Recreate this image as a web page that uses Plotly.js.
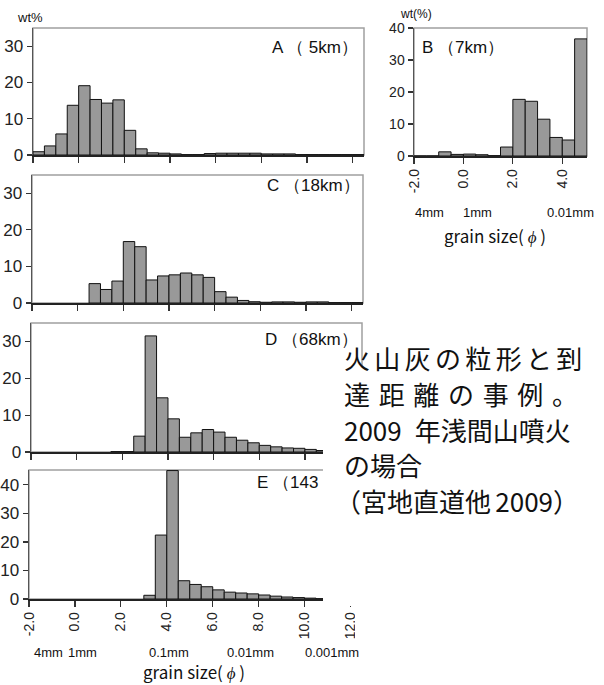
<!DOCTYPE html>
<html><head><meta charset="utf-8">
<script src="https://cdn.plot.ly/plotly-3.0.1.min.js"></script>
<style>body{margin:0;background:#fff;} #chart{width:604px;height:685px;}</style>
</head><body><div id="chart"></div>
<script>
// bin start (phi), bins are 0.5 phi wide
const binsA = [-2.0,-1.5,-1.0,-0.5,0.0,0.5,1.0,1.5,2.0,2.5,3.0,3.5,4.0,4.5,5.0,5.5,6.0,6.5,7.0,7.5,8.0,8.5,9.0,9.5,10.0,10.5,11.0,11.5,12.0];
const valuesA = [0.9,2.5,5.8,13.7,19.1,15.3,14.3,15.2,6.8,1.7,0.6,0.5,0.3,0.1,0.1,0.4,0.5,0.5,0.5,0.5,0.3,0.3,0.3,0.1,0.1,0.1,0.1,0.1,0.1];
const binsB = [-2.0,-1.5,-1.0,-0.5,0.0,0.5,1.0,1.5,2.0,2.5,3.0,3.5,4.0,4.5];
const valuesB = [0,0,1.3,0.5,0.6,0.4,0.1,2.8,17.7,17.1,11.5,5.8,5.0,36.6];
const binsC = [0.5,1.0,1.5,2.0,2.5,3.0,3.5,4.0,4.5,5.0,5.5,6.0,6.5,7.0,7.5,8.0,8.5,9.0,9.5,10.0,10.5,11.0,11.5,12.0];
const valuesC = [5.3,3.7,6.0,16.8,15.4,6.3,7.4,7.7,8.2,7.7,7.0,3.1,1.6,0.7,0.35,0.2,0.3,0.3,0.2,0.3,0.3,0.1,0.1,0.1];
const binsD = [1.5,2.0,2.5,3.0,3.5,4.0,4.5,5.0,5.5,6.0,6.5,7.0,7.5,8.0,8.5,9.0,9.5,10.0,10.5];
const valuesD = [0.1,0.1,4.3,31.5,14.7,9.0,4.0,5.2,6.1,5.4,4.0,3.2,2.5,1.8,1.4,1.1,1.0,0.7,0.4];
const binsE = [3.0,3.5,4.0,4.5,5.0,5.5,6.0,6.5,7.0,7.5,8.0,8.5,9.0,9.5,10.0,10.5];
const valuesE = [1.3,22.4,45.0,6.4,5.1,4.3,3.2,2.4,2.1,1.8,1.4,1.0,0.7,0.5,0.3,0.1];

const panelLabels = ["A （ 5km）","B （7km）","C （18km）","D （68km）","E （143"];
const phiTicks = [-2,0,2,4,6,8,10,12];
const phiTickText = ["-2.0","0.0","2.0","4.0","6.0","8.0","10.0","12.0"];
const phiTicksB = [-2,0,2,4];
const phiTickTextB = ["-2.0","0.0","2.0","4.0"];
const sizeLabelsB = ["4mm","1mm","0.01mm"];
const sizeLabelsE = ["4mm","1mm","0.1mm","0.01mm","0.001mm"];
const yLabelA = "wt%";
const yLabelB = "wt(%)";
const xTitle = "grain size( <i>ϕ</i> )";
const noteLines = [
  "火\u2006山\u2006灰\u2006の\u2006粒\u2006形\u2006と\u2006到",
  "達\u2004距\u2004離\u2004の\u2004事\u2004例\u2004。",
  "2009\u2002年浅間山噴火",
  "の場合",
  "（宮地直道他\u20062009）"
];

const W = 604, H = 685;
const px = x => x / W;
const py = y => 1 - y / H;

const sans = "Liberation Sans";
const barStyle = {color:'#999999', line:{color:'#111', width:1}};

function centers(b){ return b.map(v => v + 0.25); }
function bar(b, v, n){
  return {type:'bar', x:centers(b), y:v, width:0.5, marker:barStyle,
          xaxis: n===1?'x':'x'+n, yaxis: n===1?'y':'y'+n, hoverinfo:'skip'};
}
const traces = [bar(binsA,valuesA,1), bar(binsB,valuesB,2), bar(binsC,valuesC,3), bar(binsD,valuesD,4), bar(binsE,valuesE,5)];

// panel boxes in pixels: [left, right, top, bottom]
const boxes = {
  1:[33,364,28,155],
  2:[414,587,28,156],
  3:[32,363,175,303],
  4:[31,362,323,452],
  5:[29,362,470,599]
};
function xa(n, range, tv, tt, showLabels){
  const b = boxes[n];
  return {domain:[px(b[0]),px(b[1])], range:range, anchor: n===1?'y':'y'+n,
    tickvals:tv, ticktext:tt, ticks:'outside', ticklen:6, tickwidth:1.2, tickcolor:'#333',
    showticklabels:showLabels, tickangle:-90, tickfont:{family:sans, size:14, color:'#222'},
    showgrid:false, zeroline:false, showline:true, linecolor:'#222', linewidth:1.5, fixedrange:true};
}
function ya(n, range, tv, fs){
  const b = boxes[n];
  return {domain:[py(b[3]),py(b[2])], range:range, anchor: n===1?'x':'x'+n,
    tickvals:tv, ticks:'outside', ticklen:5, tickwidth:1.2, tickcolor:'#333',
    tickfont:{family:sans, size:fs, color:'#222'},
    showgrid:false, zeroline:false, showline:true, linecolor:'#555', linewidth:1.5, fixedrange:true};
}

const shapes = [];
for (const k of [1,2,3,4,5]){
  const b = boxes[k];
  shapes.push({type:'rect', xref:'paper', yref:'paper', x0:px(b[0]), x1:px(b[1]), y0:py(b[3]), y1:py(b[2]),
    line:{color:'#a0a0a0', width:1.5}, layer:'below'});
}
// white note box laid over the right part of D and E
shapes.push({type:'rect', xref:'paper', yref:'paper', x0:px(323), x1:1, y0:py(606), y1:py(366),
  fillcolor:'#fff', line:{width:0}, layer:'above'});
shapes.push({type:'rect', xref:'paper', yref:'paper', x0:px(355), x1:1, y0:py(646), y1:py(606),
  fillcolor:'#fff', line:{width:0}, layer:'above'});

function ann(text, x, y, xanchor, size, family){
  return {text:text, x:px(x), y:py(y), xref:'paper', yref:'paper', xanchor:xanchor, yanchor:'middle',
    showarrow:false, borderpad:0, font:{family:family||sans, size:size, color:'#111'}};
}
const annotations = [
  ann(yLabelA, 30, 18, 'center', 13),
  ann(yLabelB, 399, 14, 'left', 12),
  ann(panelLabels[0], 359, 47, 'right', 17),
  ann(panelLabels[1], 421, 47, 'left', 17),
  ann(panelLabels[2], 361, 186, 'right', 17),
  ann(panelLabels[3], 359, 339, 'right', 17),
  ann(panelLabels[4], 256, 482, 'left', 17),
  ann(xTitle, 495, 235, 'center', 17, "Noto Sans CJK JP"),
  ann(xTitle, 194, 671, 'center', 17, "Noto Sans CJK JP")
];
const bUnitX = [429, 477, 570];
sizeLabelsB.forEach((t,i)=>annotations.push(ann(t, bUnitX[i], 213, 'center', 13)));
const eUnitX = [48, 82, 169, 250, 332];
sizeLabelsE.forEach((t,i)=>annotations.push(ann(t, eUnitX[i], 652, 'center', 13)));
const noteY = [357, 393, 429, 465, 500];
const noteX = [343, 343, 343, 343, 334];
noteLines.forEach((t,i)=>annotations.push(ann(t, noteX[i], noteY[i], 'left', 26, "Noto Sans CJK JP")));

const layout = {
  width:W, height:H, margin:{l:0,r:0,t:0,b:0}, showlegend:false,
  paper_bgcolor:'#fff', plot_bgcolor:'rgba(0,0,0,0)',
  xaxis: xa(1,[-2,12.5],phiTicks,phiTickText,false),
  xaxis2: xa(2,[-2,5],phiTicksB,phiTickTextB,true),
  xaxis3: xa(3,[-2,12.5],phiTicks,phiTickText,false),
  xaxis4: xa(4,[-2,12.5],phiTicks,phiTickText,false),
  xaxis5: xa(5,[-2,12.5],phiTicks,phiTickText,true),
  yaxis: ya(1,[0,35],[0,10,20,30],17),
  yaxis2: ya(2,[0,40],[0,10,20,30,40],14),
  yaxis3: ya(3,[0,35],[0,10,20,30],17),
  yaxis4: ya(4,[0,35],[0,10,20,30],17),
  yaxis5: ya(5,[0,45.2],[0,10,20,30,40],17),
  shapes:shapes, annotations:annotations
};
Plotly.newPlot('chart', traces, layout, {displayModeBar:false, staticPlot:true});
</script></body></html>
